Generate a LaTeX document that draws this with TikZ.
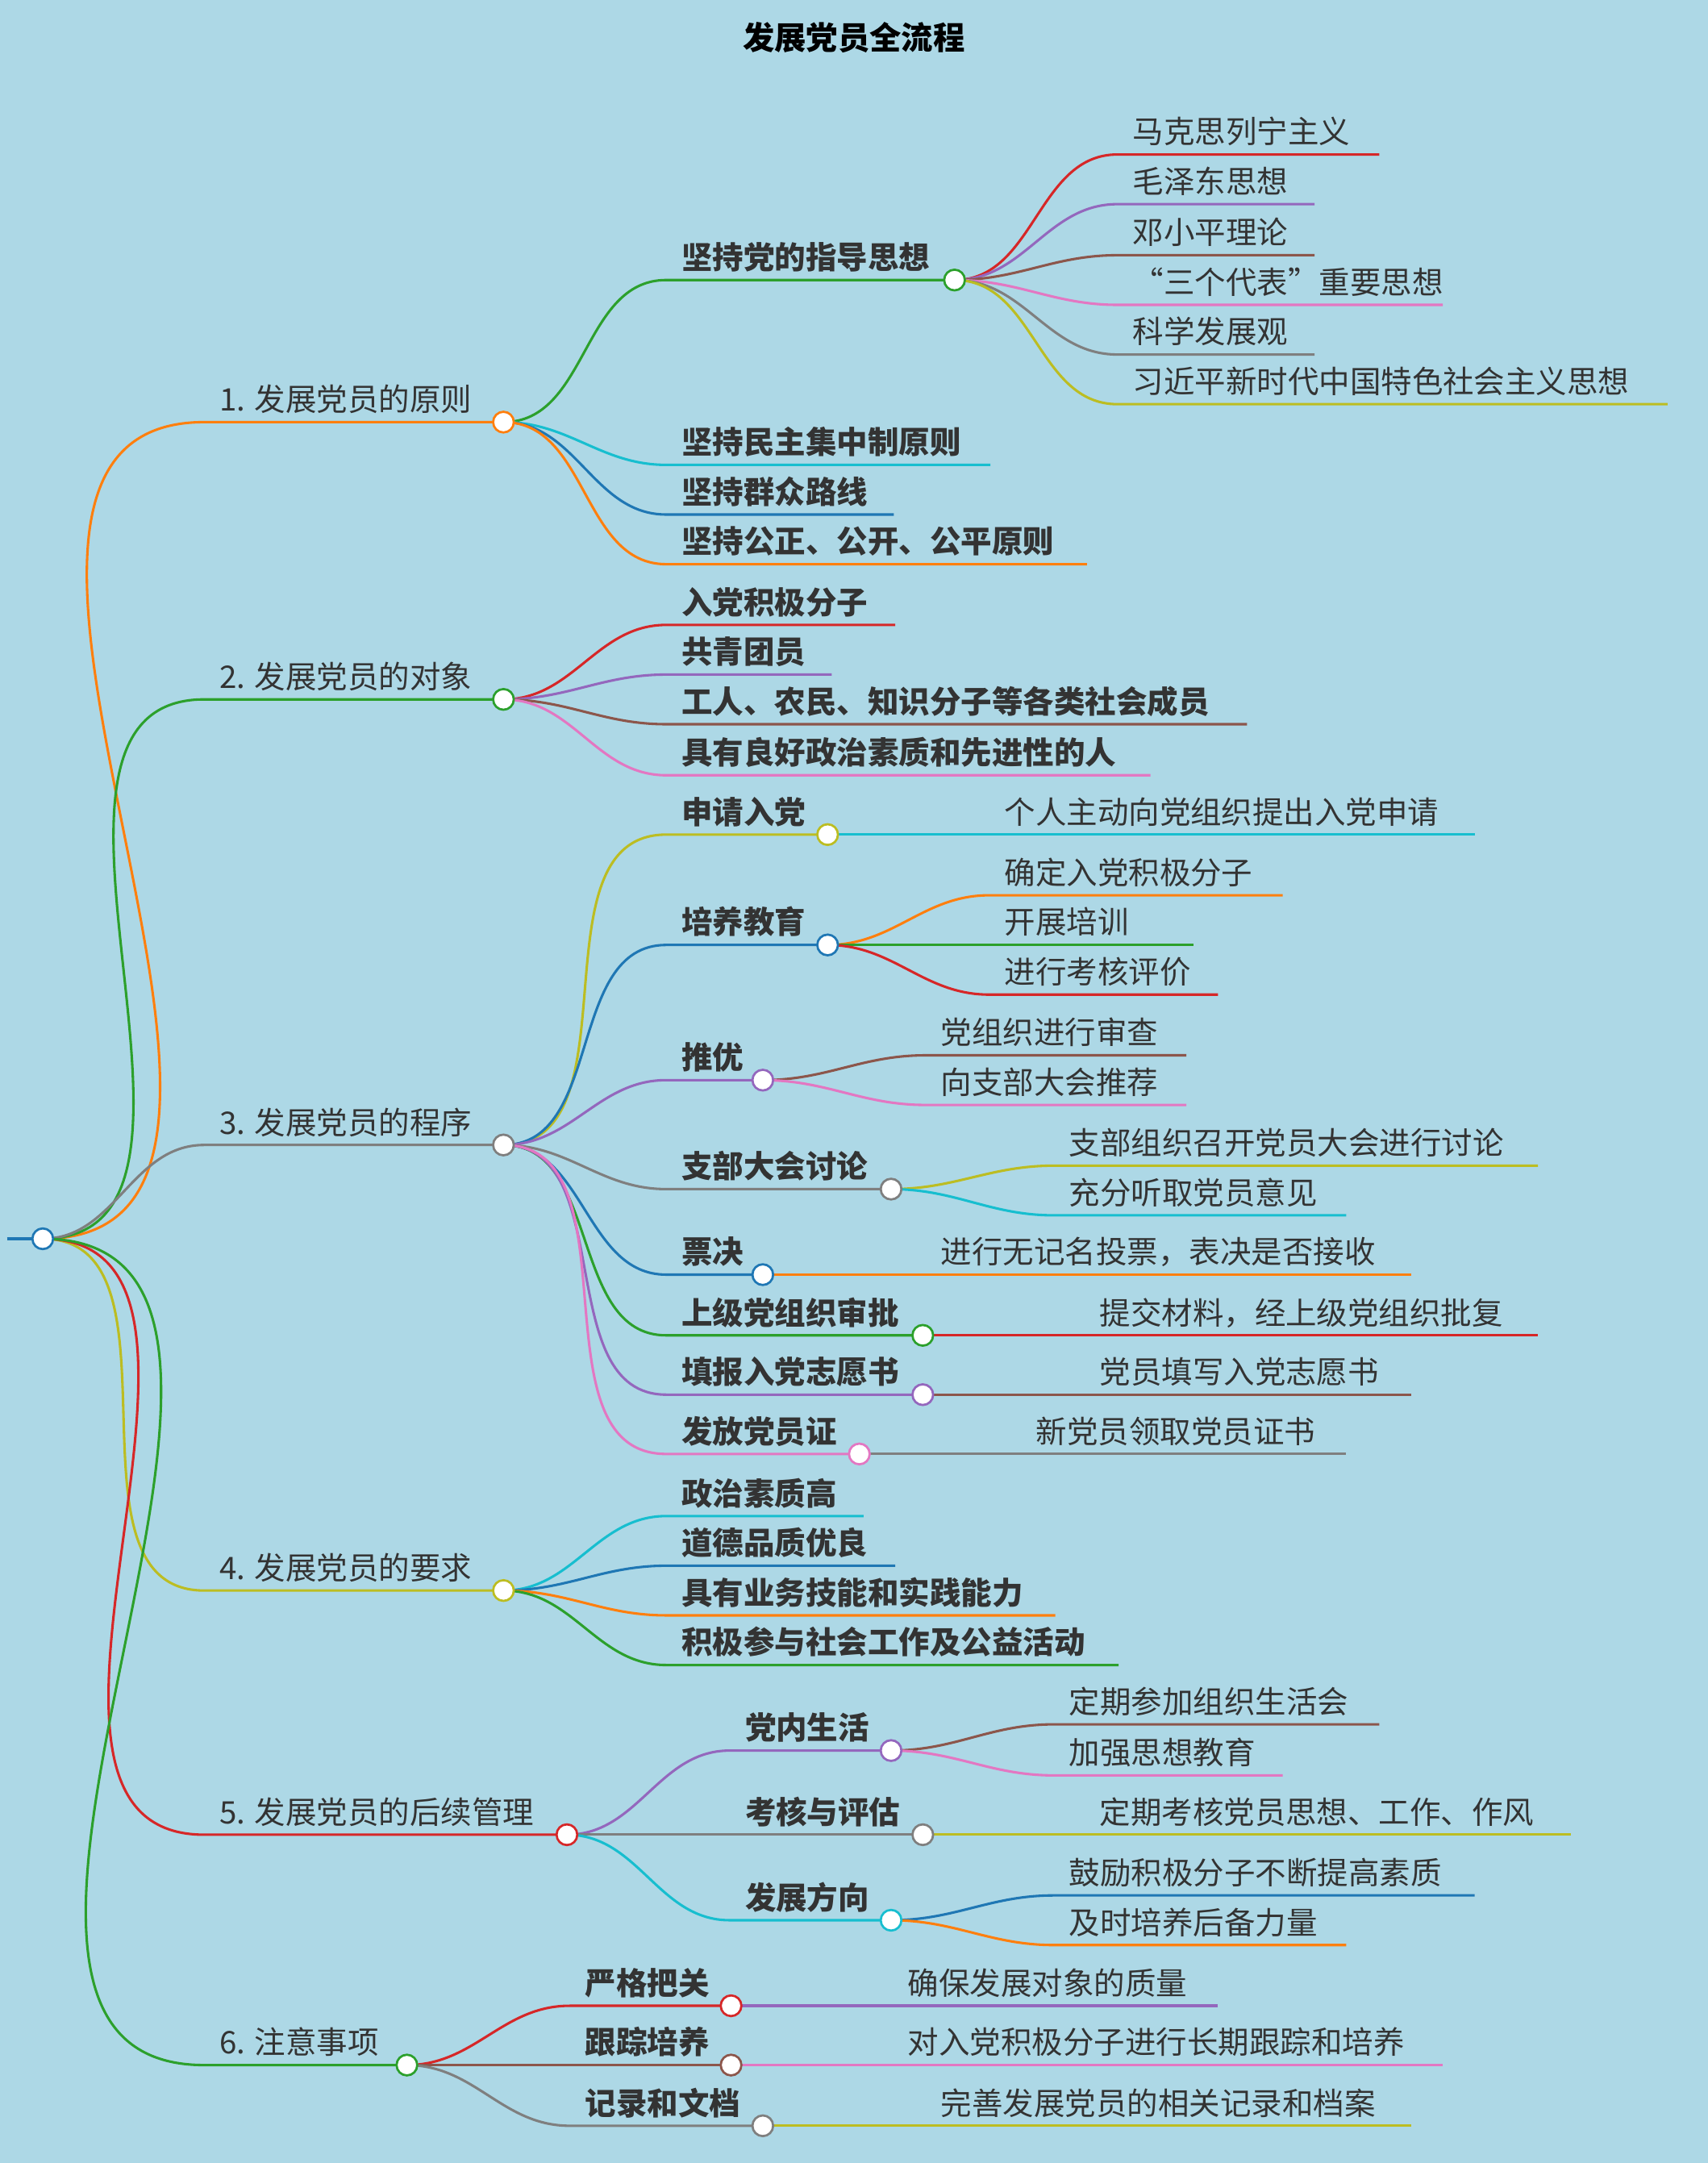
\documentclass[tikz,border=0pt]{standalone}
\usepackage{fontspec}
\setmainfont{Noto Sans CJK SC}
\usetikzlibrary{calc}
\definecolor{cblue}{HTML}{1F77B4}\definecolor{corange}{HTML}{FF7F0E}
\definecolor{cgreen}{HTML}{2CA02C}\definecolor{cred}{HTML}{D62728}
\definecolor{cpurple}{HTML}{9467BD}\definecolor{cbrown}{HTML}{8C564B}
\definecolor{cpink}{HTML}{E377C2}\definecolor{cgray}{HTML}{7F7F7F}
\definecolor{colive}{HTML}{BCBD22}\definecolor{ccyan}{HTML}{17BECF}
\definecolor{bgc}{HTML}{ADD8E6}\definecolor{txt}{HTML}{333333}
\pgfdeclarelayer{back}\pgfdeclarelayer{bg}\pgfsetlayers{back,bg,main}
\tikzset{edge/.style={line width=1.8pt}, dot/.style={circle,draw,fill=white,line width=1.6pt,minimum size=15pt,inner sep=0pt},
 lbl/.style={anchor=base west,text=txt,inner sep=0pt}}
% parent, name, x1, xend, y, color, fontextra, text
\newcommand\leaf[8]{%
 \coordinate (#2s) at (#3,-#5); \coordinate (#2) at (#4,-#5);
 \begin{pgfonlayer}{bg}\draw[edge,#6] (#1) to[out=0,in=180] (#2s) -- (#2);\end{pgfonlayer}
 \node[lbl,font=\fontsize{22.5}{24}\selectfont#7] (#2t) at ($(#2s)+(11,8)$) {#8};}
\newcommand\inode[8]{\leaf{#1}{#2}{#3}{#4}{#5}{#6}{#7}{#8}\node[dot,draw=#6] (#2c) at (#2) {};}
\begin{document}
\begin{tikzpicture}[x=1pt,y=1pt]
\begin{pgfonlayer}{back}\fill[bgc] (0,0) rectangle (1238,-1568);\end{pgfonlayer}
\useasboundingbox (0,0) rectangle (1238,-1568);
\node[text=black,font=\fontsize{23}{26}\selectfont\bfseries] (title) at (619,-27) {发展党员全流程};
\coordinate (root) at (31,-898); \coordinate (rootl) at (5,-898);
\begin{pgfonlayer}{bg}\draw[edge,cblue] (rootl) -- (root);\end{pgfonlayer}
% level 1
\inode{root}{a}{148}{365}{306}{corange}{}{1. 发展党员的原则}
\inode{root}{b}{148}{365}{507}{cgreen}{}{2. 发展党员的对象}
\inode{root}{c}{148}{365}{830}{cgray}{}{3. 发展党员的程序}
\inode{root}{d}{148}{365}{1153}{colive}{}{4. 发展党员的要求}
\inode{root}{e}{148}{411}{1330}{cred}{}{5. 发展党员的后续管理}
\inode{root}{f}{148}{295}{1497}{cgreen}{}{6. 注意事项}
% 1
\inode{a}{a1}{483}{692}{203}{cgreen}{\bfseries}{坚持党的指导思想}
\leaf{a}{a2}{483}{718}{337}{ccyan}{\bfseries}{坚持民主集中制原则}
\leaf{a}{a3}{483}{648}{373}{cblue}{\bfseries}{坚持群众路线}
\leaf{a}{a4}{483}{788}{409}{corange}{\bfseries}{坚持公正、公开、公平原则}
\leaf{a1}{a11}{810}{1000}{112}{cred}{}{马克思列宁主义}
\leaf{a1}{a12}{810}{953}{148}{cpurple}{}{毛泽东思想}
\leaf{a1}{a13}{810}{953}{185}{cbrown}{}{邓小平理论}
\leaf{a1}{a14}{810}{1046}{221}{cpink}{}{“三个代表”重要思想}
\leaf{a1}{a15}{810}{953}{257}{cgray}{}{科学发展观}
\leaf{a1}{a16}{810}{1209}{293}{colive}{}{习近平新时代中国特色社会主义思想}
% 2
\leaf{b}{b1}{483}{649}{453}{cred}{\bfseries}{入党积极分子}
\leaf{b}{b2}{483}{603}{489}{cpurple}{\bfseries}{共青团员}
\leaf{b}{b3}{483}{904}{525}{cbrown}{\bfseries}{工人、农民、知识分子等各类社会成员}
\leaf{b}{b4}{483}{834}{562}{cpink}{\bfseries}{具有良好政治素质和先进性的人}
% 3
\inode{c}{c1}{483}{600}{605}{colive}{\bfseries}{申请入党}
\inode{c}{c2}{483}{600}{685}{cblue}{\bfseries}{培养教育}
\inode{c}{c3}{483}{553}{783}{cpurple}{\bfseries}{推优}
\inode{c}{c4}{483}{646}{862}{cgray}{\bfseries}{支部大会讨论}
\inode{c}{c5}{483}{553}{924}{cblue}{\bfseries}{票决}
\inode{c}{c6}{483}{669}{968}{cgreen}{\bfseries}{上级党组织审批}
\inode{c}{c7}{483}{669}{1011}{cpurple}{\bfseries}{填报入党志愿书}
\inode{c}{c8}{483}{623}{1054}{cpink}{\bfseries}{发放党员证}
\leaf{c1}{c11}{717}{1069}{605}{ccyan}{}{个人主动向党组织提出入党申请}
\leaf{c2}{c21}{717}{930}{649}{corange}{}{确定入党积极分子}
\leaf{c2}{c22}{717}{865}{685}{cgreen}{}{开展培训}
\leaf{c2}{c23}{717}{883}{721}{cred}{}{进行考核评价}
\leaf{c3}{c31}{671}{860}{765}{cbrown}{}{党组织进行审查}
\leaf{c3}{c32}{671}{860}{801}{cpink}{}{向支部大会推荐}
\leaf{c4}{c41}{764}{1115}{845}{colive}{}{支部组织召开党员大会进行讨论}
\leaf{c4}{c42}{764}{976}{881}{ccyan}{}{充分听取党员意见}
\leaf{c5}{c51}{671}{1023}{924}{corange}{}{进行无记名投票，表决是否接收}
\leaf{c6}{c61}{786}{1115}{968}{cred}{}{提交材料，经上级党组织批复}
\leaf{c7}{c71}{786}{1023}{1011}{cbrown}{}{党员填写入党志愿书}
\leaf{c8}{c81}{740}{976}{1054}{cgray}{}{新党员领取党员证书}
% 4
\leaf{d}{d1}{483}{626}{1099}{ccyan}{\bfseries}{政治素质高}
\leaf{d}{d2}{483}{649}{1135}{cblue}{\bfseries}{道德品质优良}
\leaf{d}{d3}{483}{765}{1171}{corange}{\bfseries}{具有业务技能和实践能力}
\leaf{d}{d4}{483}{811}{1207}{cgreen}{\bfseries}{积极参与社会工作及公益活动}
% 5
\inode{e}{e1}{529}{646}{1269}{cpurple}{\bfseries}{党内生活}
\inode{e}{e2}{529}{669}{1330}{cgray}{\bfseries}{考核与评估}
\inode{e}{e3}{529}{646}{1392}{ccyan}{\bfseries}{发展方向}
\leaf{e1}{e11}{764}{1000}{1250}{cbrown}{}{定期参加组织生活会}
\leaf{e1}{e12}{764}{930}{1287}{cpink}{}{加强思想教育}
\leaf{e2}{e21}{786}{1139}{1330}{colive}{}{定期考核党员思想、工作、作风}
\leaf{e3}{e31}{764}{1069}{1374}{cblue}{}{鼓励积极分子不断提高素质}
\leaf{e3}{e32}{764}{976}{1410}{corange}{}{及时培养后备力量}
% 6
\inode{f}{f1}{413}{530}{1454}{cred}{\bfseries}{严格把关}
\inode{f}{f2}{413}{530}{1497}{cbrown}{\bfseries}{跟踪培养}
\inode{f}{f3}{413}{553}{1541}{cgray}{\bfseries}{记录和文档}
\leaf{f1}{f11}{647}{883}{1454}{cpurple}{}{确保发展对象的质量}
\leaf{f2}{f21}{647}{1046}{1497}{cpink}{}{对入党积极分子进行长期跟踪和培养}
\leaf{f3}{f31}{671}{1023}{1541}{colive}{}{完善发展党员的相关记录和档案}
\node[dot,draw=cblue] (rootc) at (root) {};
\end{tikzpicture}
\end{document}
